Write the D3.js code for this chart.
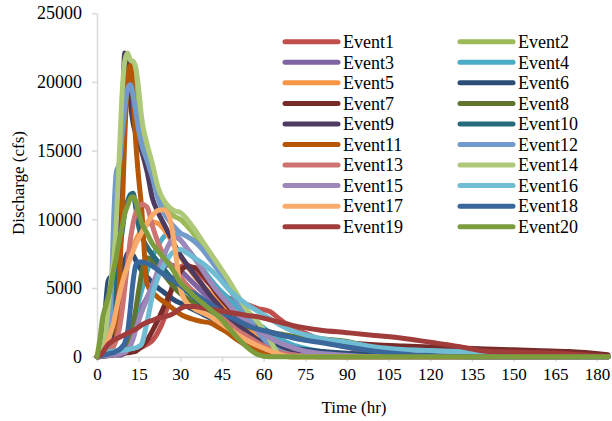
<!DOCTYPE html>
<html><head><meta charset="utf-8">
<script src="https://cdn.jsdelivr.net/npm/d3@7"></script>
<style>
html,body{margin:0;padding:0;background:#fff;}
svg text{font-family:"Liberation Serif","Times New Roman",serif;fill:#000;}
</style></head>
<body><svg id="chart" width="612" height="421" font-family="Liberation Serif"></svg>
<script>
const hours = [0,1,2,3,4,5,6,7,8,9,10,11,12,13,14,15,16,18,20,22,24,26,28,30,32,35,38,41,44,47,50,54,58,62,66,70,75,80,90,100,110,120,130,140,150,160,170,184];
const seriesNames = ["Event1","Event2","Event3","Event4","Event5","Event6","Event7","Event8","Event9","Event10","Event11","Event12","Event13","Event14","Event15","Event16","Event17","Event18","Event19","Event20"];
const xTicks = [0,15,30,45,60,75,90,105,120,135,150,165,180];
const yTicks = [0,5000,10000,15000,20000,25000];

const event1  = [0,20,50,80,100,150,200,250,300,350,400,450,500,550,600,650,700, 900,1200,1800,2700,4200,5800,6500,6700,6400,5800,5200,4600,4300,4100,3800,3500,3300,2700,2100,1700,1300,700,300,100,0,0,0,0,0,0,0];
const event2  = [0,50,300,1000,2800,4800,6500,9000,13000,17500,20500,21500,21000,20500,19500,18000,16300, 14500,13200,11800,11000,10500,10200,10000,9600,8900,8000,7100,6300,5400,4400,3200,2300,1100,100,0,0,0,0,0,0,0,0,0,0,0,0,0];
const event3  = [0,0,20,40,60,80,100,100,100,150,300,700,1500,2400,3000,3300,3600, 4300,5200,6000,6500,6700,6600,6300,5900,5300,4700,4100,3500,2900,2400,1800,1300,900,600,350,200,100,30,0,0,0,0,0,0,0,0,0];
const event4  = [0,50,100,150,200,250,300,400,500,700,900,1300,1800,2500,3200,4000,4800, 6200,7300,8100,8700,9000,8900,8500,8000,7200,6400,5600,4900,4300,3700,3000,2400,1800,1300,900,600,400,150,50,0,0,0,0,0,0,0,0];
const event5  = [0,200,600,1200,2000,2800,3600,4300,5000,5600,6200,6800,7400,8000,8500,8900,9200, 9600,9800,9700,9300,8700,8000,7300,6700,5900,5200,4600,4000,3400,2800,2100,1500,1000,600,350,150,50,0,0,0,0,0,0,0,0,0,0];
const event6  = [0,300,1500,3500,5500,5800,5700,5600,6000,6500,7000,7500,7600,7400,7000,6600,6300, 5800,5400,5000,4700,4400,4100,3900,3700,3400,3100,2800,2500,2200,1900,1500,1200,1000,800,650,500,400,250,150,80,30,0,0,0,0,0,0];
const event7  = [0,20,50,80,100,120,150,170,200,220,250,280,300,350,400,550,700, 1200,1900,2700,3600,4500,5400,6200,6550,6500,6000,5200,4400,3700,3100,2500,2100,1800,1600,1450,1300,1200,1000,870,780,700,630,560,500,430,370,150];
const event8  = [0,20,50,80,100,130,160,200,300,400,600,1000,1500,2400,3500,4800,6000, 7200,7000,6500,6000,5500,5000,4600,4300,3900,3600,3300,3000,2700,2500,2200,2000,1800,1650,1500,1400,1300,1100,600,100,0,0,0,0,0,0,0];
const event9  = [0,50,100,200,500,1000,2500,4500,9000,16000,22100,21000,18500,17000,16200,15600,15000, 13500,11500,10500,9700,8900,8100,7400,6800,6000,5200,4400,3700,3000,2400,1800,1200,800,500,300,150,50,0,0,0,0,0,0,0,0,0,0];
const event10 = [0,100,300,800,1800,3000,4500,6000,7500,9000,10500,11300,11800,11900,10800,9500,8800, 8000,7400,6900,6400,5900,5500,5100,4800,4300,3800,3400,2900,2500,2000,1300,800,400,200,100,50,0,0,0,0,0,0,0,0,0,0,0];
const event11 = [0,50,100,200,300,500,800,1500,5000,10000,16000,20000,21200,19000,15500,13000,11000, 5300,4700,4300,4000,3700,3400,3100,2900,2700,2550,2450,2100,1750,1300,800,400,150,50,0,0,0,0,0,0,0,0,0,0,0,0,0];
const event12 = [0,50,100,300,800,3500,10000,13500,14000,16000,18000,19500,19800,19000,17800,16500,15500, 14300,13000,11500,10500,9900,9400,9000,8800,8400,7800,7000,6200,5200,4200,3000,1800,900,400,150,50,0,0,0,0,0,0,0,0,0,0,0];
const event13 = [0,50,100,150,300,500,800,1300,2000,3300,5000,6800,8500,9700,10500,10900,11100, 10900,9500,8300,7400,6800,6300,5800,5300,4700,4100,3500,3000,2500,2000,1500,1000,600,300,150,50,0,0,0,0,0,0,0,0,0,0,0];
const event14 = [0,100,500,1500,3500,5500,7000,10000,14500,19000,21500,22100,21600,21500,21000,19500,17500, 15500,14000,12300,11400,10900,10600,10500,10100,9300,8400,7500,6600,5700,4700,3400,2500,1300,100,0,0,0,0,0,0,0,0,0,0,0,0,0];
const event15 = [0,20,50,70,100,120,150,170,200,250,300,500,800,1300,2000,2600,3200, 4200,5200,6300,7300,8200,8700,8500,8000,7200,6300,5400,4600,3900,3200,2500,1900,1400,1000,700,400,250,100,0,0,0,0,0,0,0,0,0];
const event16 = [0,200,300,320,350,370,400,420,450,480,500,520,550,600,650,750,900, 2500,4500,5800,6600,7300,7700,7800,7600,7200,6800,6300,5700,5000,4400,3800,3300,2800,2300,1900,1600,1350,1050,700,520,450,380,300,180,50,0,0];
const event17 = [0,100,300,600,1200,1800,2500,3500,4500,5300,6000,6600,7200,7700,8200,8600,9000, 9700,10300,10650,10700,10200,8000,5000,4000,3500,3200,2900,2500,2100,1700,1200,800,450,150,0,0,0,0,0,0,0,0,0,0,0,0,0];
const event18 = [0,50,100,150,200,250,300,400,500,700,1000,1800,3500,5500,6700,6900,6900, 6800,6600,6300,6000,5700,5500,5200,4900,4600,4200,3800,3400,3000,2700,2300,2000,1800,1600,1400,1200,1050,700,400,200,80,20,0,0,0,0,0];
const event19 = [0,100,300,600,900,1050,1200,1300,1400,1500,1600,1700,1800,1900,2000,2150,2300, 2500,2650,2800,2900,3000,3200,3500,3650,3650,3550,3450,3350,3250,3150,3000,2900,2700,2500,2300,2100,1950,1750,1550,1350,1050,750,400,330,280,200,0];
const event20 = [0,1200,2800,3600,4300,5200,6300,7300,8500,9400,10400,11000,11500,11650,11300,10500,9800, 9000,8200,7700,7200,6700,6100,5400,5000,4400,3900,3400,2900,2200,1500,700,150,0,0,0,0,0,0,0,0,0,0,0,0,0,0,0];

const seriesValues = [event1,event2,event3,event4,event5,event6,event7,event8,event9,event10,
  event11,event12,event13,event14,event15,event16,event17,event18,event19,event20];
const colors = ["#C0504D","#9BBB59","#8064A2","#4BACC6","#F79646","#2C4D75","#772C2A","#5F7530","#4D3B62","#276A7C",
  "#B65708","#729ACA","#CD7371","#AFC97A","#9E88BA","#6FBCD3","#F9AB6B","#3A679C","#A03D3B","#7C9C3E"];

const FONT = "Liberation Serif";
const svg = d3.select("#chart");
const x = d3.scaleLinear().domain([0,184]).range([97,608]);
const y = d3.scaleLinear().domain([0,25000]).range([356.7,13.2]);

// axes
const gx = svg.append("g").attr("transform","translate(0,356.7)")
  .call(d3.axisBottom(x).tickValues(xTicks).tickFormat(d3.format("d")).tickSize(5).tickPadding(6).tickSizeOuter(0));
const gy = svg.append("g").attr("transform","translate(97,0)")
  .call(d3.axisLeft(y).tickValues(yTicks).tickFormat(d3.format("d")).tickSize(5).tickPadding(10).tickSizeOuter(0));
[gx,gy].forEach(g=>{
  g.attr("font-family",FONT);
  g.select(".domain").attr("stroke","#D9D9D9").attr("stroke-width",1.5);
  g.selectAll(".tick line").attr("stroke","#D9D9D9").attr("stroke-width",1.5);
  g.selectAll("text").attr("fill","#000").attr("font-family",FONT);
});
gx.attr("font-size",17); gx.selectAll("text").attr("font-size",17);
gy.attr("font-size",18); gy.selectAll("text").attr("font-size",18);

// lines
const line = d3.line().x((d,i)=>x(hours[i])).y(d=>y(d)).curve(d3.curveMonotoneX);
svg.append("g").selectAll("path").data(seriesValues).join("path")
  .attr("d",line).attr("fill","none")
  .attr("stroke",(d,i)=>colors[i]).attr("stroke-width",5)
  .attr("stroke-linejoin","round").attr("stroke-linecap","round");

// axis titles
svg.append("text").attr("x",354).attr("y",413).attr("text-anchor","middle")
  .attr("font-family",FONT).attr("font-size",17).text("Time (hr)");
svg.append("text").attr("transform","translate(24,183) rotate(-90)").attr("text-anchor","middle")
  .attr("font-family",FONT).attr("font-size",17).text("Discharge (cfs)");

// legend
const leg = svg.append("g").attr("font-family",FONT);
seriesNames.forEach((name,i)=>{
  const col = i%2, row = Math.floor(i/2);
  const x0 = col===0 ? 285 : 460;
  const yc = 41.7 + row*20.56;
  leg.append("line").attr("x1",x0).attr("x2",x0+53).attr("y1",yc).attr("y2",yc)
    .attr("stroke",colors[i]).attr("stroke-width",5).attr("stroke-linecap","round");
  leg.append("text").attr("x",x0+58).attr("y",yc+6.3).attr("font-family",FONT).attr("font-size",18).text(name);
});
</script></body></html>
